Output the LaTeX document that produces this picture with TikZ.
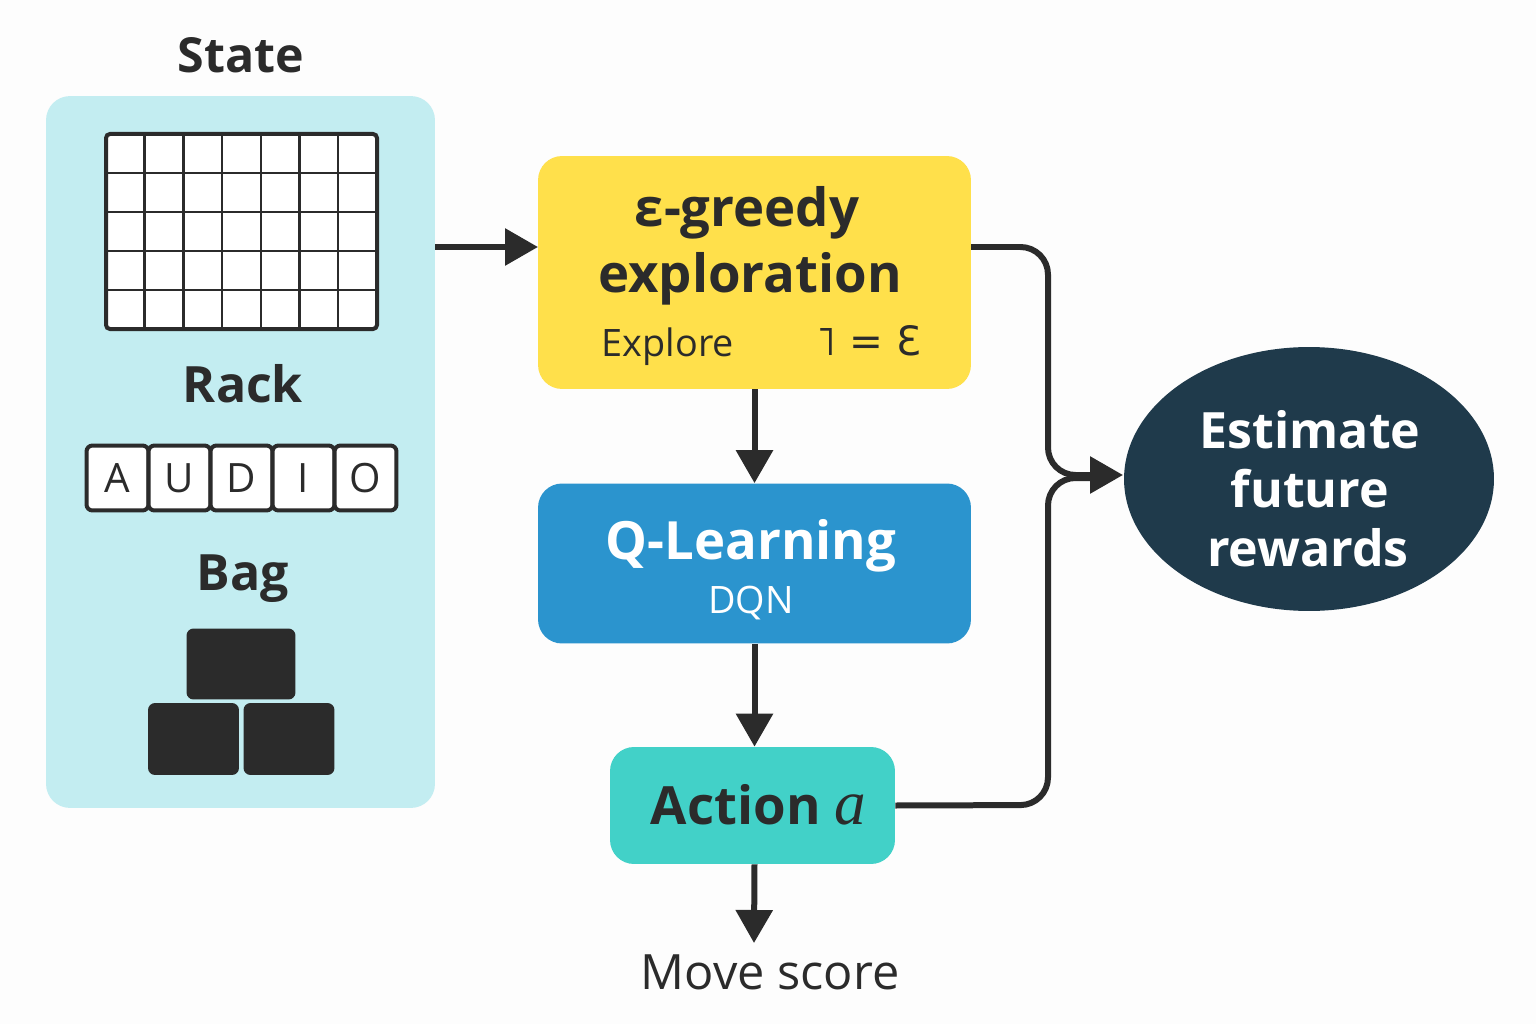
\documentclass[tikz,border=0pt]{standalone}
\usepackage{fontspec}
\setmainfont{Open Sans}
\newfontfamily\symbolfont{DejaVu Sans}
\newfontfamily\mathletter{Liberation Serif}
\usetikzlibrary{arrows.meta,shapes.geometric}

\definecolor{pagebg}{HTML}{FDFDFD}
\definecolor{ink}{HTML}{2B2B2B}
\definecolor{statebg}{HTML}{C3EDF1}
\definecolor{greedybg}{HTML}{FFE04B}
\definecolor{qbg}{HTML}{2B94CE}
\definecolor{actionbg}{HTML}{42D1C8}
\definecolor{futurebg}{HTML}{1F3A4B}

\tikzset{
	box/.style={rounded corners=.48cm, inner sep=0},
	title/.style={font=\fontsize{28.5}{28.5}\selectfont\bfseries, text=ink},
	bigtitle/.style={font=\fontsize{30}{30}\selectfont\bfseries, text=ink},
	subtitle/.style={font=\fontsize{21.5}{21.5}\selectfont, text=ink},
	tile/.style={draw=ink, fill=white, line width=.08cm, rounded corners=.12cm, minimum width=1.24cm, minimum height=1.3cm, inner sep=0, font=\fontsize{23}{23}\selectfont, text=ink},
	block/.style={fill=ink, rounded corners=.14cm, inner sep=0},
	flow/.style={draw=ink, line width=.12cm, rounded corners=.55cm, -{Triangle[length=.66cm, width=.72cm]}},
	flowin/.style={draw=ink, line width=.12cm, rounded corners=.55cm},
}

\begin{document}
\begin{tikzpicture}[x=.02cm, y=-.02cm]
	\fill[pagebg] (0,0) rectangle (1536,1024);
	\useasboundingbox (0,0) rectangle (1536,1024);

	\node (state) [box, fill=statebg, minimum width=7.78cm, minimum height=14.24cm] at (240.5,452) {};
	\node (greedy) [box, fill=greedybg, minimum width=8.66cm, minimum height=4.66cm] at (754.5,272.5) {};
	\node (qlearn) [box, fill=qbg, minimum width=8.66cm, minimum height=3.2cm] at (754.5,563.5) {};
	\node (action) [box, fill=actionbg, minimum width=5.7cm, minimum height=2.34cm] at (752.5,805.5) {};
	\node (future) [ellipse, fill=futurebg, minimum width=7.4cm, minimum height=5.28cm, inner sep=0] at (1309,479) {};

	\node (statelabel) [title, font=\fontsize{27.5}{27.5}\selectfont\bfseries] at (241,55) {State};
	\node (racklabel) [title] at (243,384) {Rack};
	\node (baglabel) [title] at (243,579) {Bag};

	% board
	\draw[white, fill=white] (106,134) rectangle (377,329);
	\foreach \i in {1,...,6}
		\draw[ink, line width=.05cm] (106+38.7*\i,134) -- (106+38.7*\i,329);
	\foreach \j in {1,...,4}
		\draw[ink, line width=.05cm] (106,134+39*\j) -- (377,134+39*\j);
	\draw[ink, line width=.08cm, rounded corners=.08cm] (106,134) rectangle (377,329);

	% rack
	\foreach \letter [count=\i from 0] in {A,U,D,I,O}
		\node (tile\i) [tile] at (117.5+62*\i,478) {\letter};

	% bag
	\node (bagtop) [block, minimum width=2.18cm, minimum height=1.42cm] at (241,664) {};
	\node (bagleft) [block, minimum width=1.82cm, minimum height=1.44cm] at (193.5,739) {};
	\node (bagright) [block, minimum width=1.82cm, minimum height=1.44cm] at (289,739) {};

	\node (greedyline) [bigtitle] at (747,213) {ε-greedy};
	\node (explorationline) [bigtitle] at (750,279) {exploration};
	\node (explore) [subtitle] at (668,347) {Explore};
	\node (epsilon) [subtitle, font=\fontsize{23}{23}\selectfont\symbolfont] at (869,341) {˥ = Ɛ};

	\node (qname) [bigtitle, text=white] at (751,546) {Q-Learning};
	\node (dqn) [subtitle, text=white] at (751,603) {DQN};

	\node (actionname) [bigtitle] at (758.5,805) {Action {\fontsize{36}{36}\selectfont\mathletter\mdseries\itshape a}};
	\node (movescore) [text=ink, font=\fontsize{27.7}{27.7}\selectfont] at (770,972) {Move score};

	\node (est1) [title, text=white] at (1310,430) {Estimate};
	\node (est2) [title, text=white] at (1310,489) {future};
	\node (est3) [title, text=white] at (1308,548) {rewards};

	\coordinate (statefrom) at (435,247);
	\coordinate (greedyto) at (538,247);
	\coordinate (greedyfrom) at (971,247);
	\coordinate (futureto) at (1123,475);
	\coordinate (joinbelow) at (1095,478);
	\coordinate (scoreto) at (754,943);

	\draw[flow] (statefrom) -- (greedyto);
	\draw[flow] (greedy.south) -- (qlearn.north);
	\draw[flow] (qlearn.south) -- (qlearn.south |- action.north);
	\draw[flow] (qlearn.south |- action.south) -- (scoreto);

	\draw[flow] (greedyfrom) -- (1048,247) -- (1048,475) -- (futureto);
	\draw[flowin] (action.east) -- (1048,805) -- (1048,478) -- (joinbelow);
\end{tikzpicture}
\end{document}
